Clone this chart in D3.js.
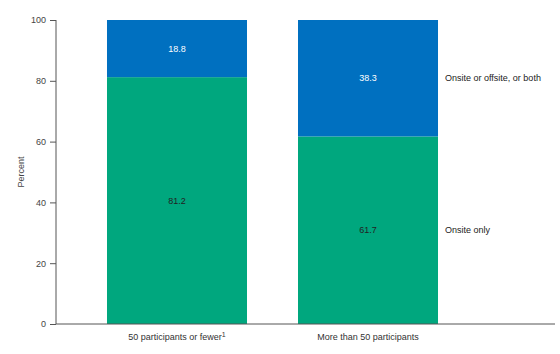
<!DOCTYPE html>
<html lang="en">
<head>
    <meta charset="UTF-8">
    <title>Percent by participants</title>
    <style>
        body { margin: 0; background: #fff; }
        text { font-family: "Liberation Sans", Arial, sans-serif; }
    </style>
</head>
<body>
    <svg id="container" width="560" height="354"></svg>

<script src="https://cdn.jsdelivr.net/npm/d3@7"></script>
<script>

    let categories = ["50 participants or fewer", "More than 50 participants"]
    let onsiteOnly = [81.2, 61.7]
    let onsiteOrOffsite = [18.8, 38.3]
    let seriesNames = ["Onsite only", "Onsite or offsite, or both"]
    let yTicks = [0, 20, 40, 60, 80, 100]

    let colors = ["#00a77e", "#0070c0"]
    let labelColors = ["#222", "#fff"]

    let svg = d3.select("#container")
    let plotLeft = 56, plotTop = 20, plotBottom = 324, plotRight = 555

    let y = d3.scaleLinear().domain([0, 100]).range([plotBottom, plotTop])
    let x = d3.scaleBand()
        .domain(categories)
        .range([plotLeft, 489])
        .padding(0.267)

    let rows = categories.map((c, i) => ({ cat: c, a: onsiteOnly[i], b: onsiteOrOffsite[i] }))
    let stack = d3.stack().keys(["a", "b"])(rows)

    let layers = svg.selectAll("g.layer")
        .data(stack)
        .enter().append("g")
        .attr("class", "layer")
        .attr("fill", (d, i) => colors[i])

    layers.selectAll("rect")
        .data(d => d)
        .enter().append("rect")
        .attr("x", d => x(d.data.cat))
        .attr("width", x.bandwidth())
        .attr("y", d => y(d[1]))
        .attr("height", d => y(d[0]) - y(d[1]))

    stack.forEach((layer, i) => {
        svg.append("g").selectAll("text")
            .data(layer)
            .enter().append("text")
            .attr("x", d => x(d.data.cat) + x.bandwidth() / 2)
            .attr("y", d => (y(d[0]) + y(d[1])) / 2)
            .attr("dy", "0.35em")
            .attr("text-anchor", "middle")
            .attr("font-size", 9)
            .attr("fill", labelColors[i])
            .text(d => (d[1] - d[0]).toFixed(1))
    })

    // series labels next to the last bar
    let last = categories[categories.length - 1]
    let lastStack = stack.map(l => l[l.length - 1])
    svg.append("g").selectAll("text")
        .data(lastStack)
        .enter().append("text")
        .attr("x", x(last) + x.bandwidth() + 7)
        .attr("y", d => (y(d[0]) + y(d[1])) / 2)
        .attr("dy", "0.35em")
        .attr("font-size", 9)
        .attr("fill", "#222")
        .text((d, i) => seriesNames[i])

    // y axis
    let yAxis = d3.axisLeft(y).tickValues(yTicks).tickSize(6).tickPadding(4)
    let yg = svg.append("g")
        .attr("transform", `translate(${plotLeft},0)`)
        .call(yAxis)
    yg.select(".domain").attr("stroke", "#555").attr("d", `M0,${plotTop}V${plotBottom}`)
    yg.selectAll(".tick line").attr("stroke", "#555")
    yg.selectAll(".tick text").attr("font-size", 9).attr("fill", "#444")
        .attr("font-family", "Liberation Sans, Arial, sans-serif")

    // x axis
    let xAxis = d3.axisBottom(x).tickSize(0).tickPadding(10)
    let xg = svg.append("g")
        .attr("transform", `translate(0,${plotBottom})`)
        .call(xAxis)
    xg.select(".domain").attr("stroke", "#555").attr("d", `M${plotLeft},0H${plotRight}`)
    xg.selectAll(".tick text").attr("font-size", 9).attr("fill", "#333")
        .attr("font-family", "Liberation Sans, Arial, sans-serif")
        .each(function (d, i) {
            if (i === 0) {
                d3.select(this).append("tspan")
                    .attr("dy", "-0.45em").attr("font-size", 7).text("1")
            }
        })

    svg.append("text")
        .attr("transform", `translate(24,${(plotTop + plotBottom) / 2}) rotate(-90)`)
        .attr("text-anchor", "middle")
        .attr("font-size", 9)
        .attr("fill", "#444")
        .text("Percent")

</script>
</body>
</html>
